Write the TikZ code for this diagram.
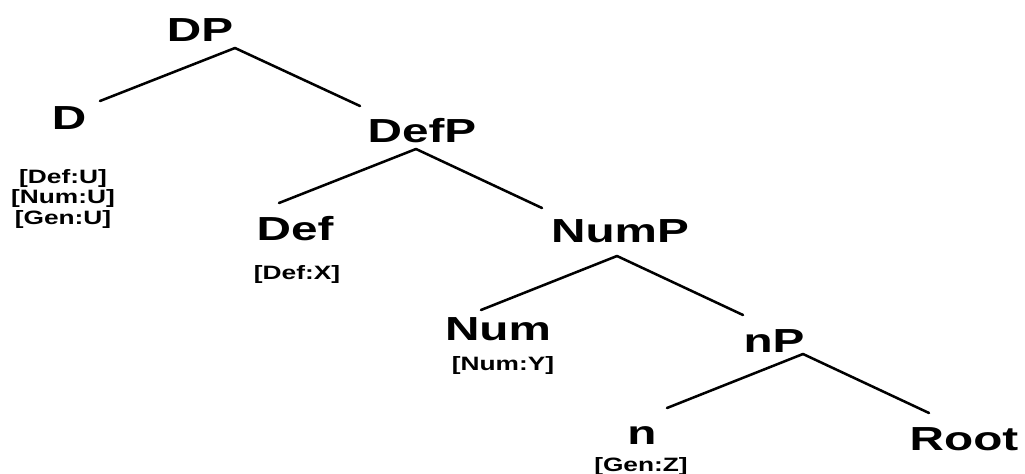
\documentclass[tikz,border=0pt]{standalone}
\usepackage{fontspec}
\usepackage{tikz}
\newfontfamily\treefont{Liberation Sans Bold}[FakeStretch=1.43]
\newfontfamily\featfont{Liberation Sans Bold}[FakeStretch=1.36]

\tikzset{
  cat/.style={anchor=base,inner sep=0.75pt,font=\treefont\fontsize{25}{25}\selectfont},
  feat/.style={anchor=center,inner sep=0.75pt,align=center,font=\featfont\fontsize{14.5}{15.2}\selectfont},
  branch/.style={line width=1.9pt,line cap=round}
}

\begin{document}
\begin{tikzpicture}[x=0.75pt,y=0.75pt,yscale=-1,xscale=1]
%set diagram left start at 0, and has height of 474
\useasboundingbox (0,0) rectangle (1025,474);

% Text Node
\node (DP) [cat] at (200,42) {DP};
% Text Node
\node (D) [cat] at (69,130) {D};
% Text Node
\node (Dfeat) [feat] at (63,199) {{[Def:U]}\\{[Num:U]}\\{[Gen:U]}};
% Text Node
\node (DefP) [cat] at (422,143) {DefP};
% Text Node
\node (Def) [cat] at (295,240) {Def};
% Text Node
\node (Deffeat) [feat] at (297,275) {[Def:X]};
% Text Node
\node (NumP) [cat] at (620,243) {NumP};
% Text Node
\node (Num) [cat] at (498,340) {Num};
% Text Node
\node (Numfeat) [feat] at (503,366) {[Num:Y]};
% Text Node
\node (nP) [cat] at (774,352) {nP};
% Text Node
\node (n) [cat] at (642,444) {n};
% Text Node
\node (nfeat) [feat] at (641,466) {[Gen:Z]};
% Text Node
\node (Root) [cat] at (964,450) {Root};

%Branch points and tips
\coordinate (DPb) at (235,48);
\coordinate (Dt) at (100,101);
\coordinate (DefPt) at (360,106);
\coordinate (DefPb) at (416,149);
\coordinate (Deft) at (279,203);
\coordinate (NumPt) at (542,208);
\coordinate (NumPb) at (617,256);
\coordinate (Numt) at (481,310);
\coordinate (nPt) at (743,315);
\coordinate (nPb) at (803,354);
\coordinate (nt) at (667,408);
\coordinate (Roott) at (929,413);

%Straight Lines
\draw [branch] (DPb) -- (Dt) ;
\draw [branch] (DPb) -- (DefPt) ;
%Straight Lines
\draw [branch] (DefPb) -- (Deft) ;
\draw [branch] (DefPb) -- (NumPt) ;
%Straight Lines
\draw [branch] (NumPb) -- (Numt) ;
\draw [branch] (NumPb) -- (nPt) ;
%Straight Lines
\draw [branch] (nPb) -- (nt) ;
\draw [branch] (nPb) -- (Roott) ;

\end{tikzpicture}
\end{document}
